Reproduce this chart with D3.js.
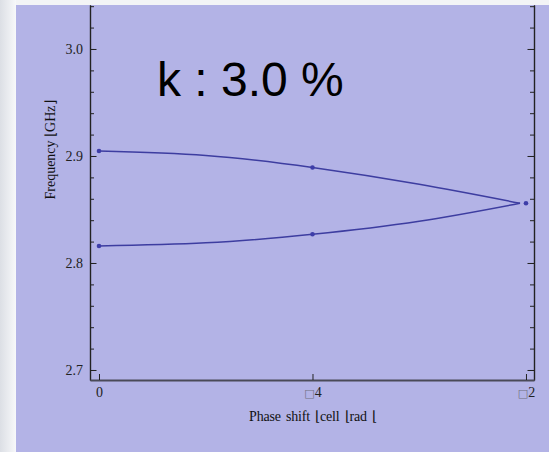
<!DOCTYPE html>
<html>
<head>
<meta charset="utf-8">
<script src="https://cdn.jsdelivr.net/npm/d3@7/dist/d3.min.js"></script>
<style>
  html, body { margin: 0; padding: 0; background: #f3f4f6; }
  svg { display: block; }
</style>
</head>
<body>
<svg id="chart" width="549" height="452"></svg>
<script>
// ---- data ----
const titleText = "k : 3.0 %";
const curvePhase = [0, 0.3927, 0.7854, 1.1781, 1.549];
const upperFreq = [2.9047, 2.9005, 2.8892, 2.8735, 2.8558];
const lowerFreq = [2.8159, 2.8188, 2.8268, 2.8390, 2.8558];
const markerPhase = [0, 0, 0.7854, 0.7854, 1.5708];
const markerFreq = [2.9047, 2.8159, 2.8892, 2.8268, 2.8558];
const yMajorTicks = [2.7, 2.8, 2.9, 3.0];
const yTickLabels = ["2.7", "2.8", "2.9", "3.0"];
const yMinorTicks = [2.70, 2.72, 2.74, 2.76, 2.78, 2.80, 2.82, 2.84, 2.86, 2.88, 2.90, 2.92, 2.94, 2.96, 2.98, 3.00, 3.02, 3.04];
const xTicks = [0, 0.7854, 1.5708];
const xTickLabels = ["0", "\u25A14", "\u25A12"];
const xTitle = "Phase  shift \u230Acell  \u230Arad \u230A";
const yTitle = "Frequency \u230AGHz\u230B";

const svg = d3.select("#chart");

// background
const defs = svg.append("defs");
const grad = defs.append("linearGradient").attr("id", "lg").attr("x1", 0).attr("x2", 1).attr("y1", 0).attr("y2", 0);
grad.append("stop").attr("offset", "0%").attr("stop-color", "#dcdfe5");
grad.append("stop").attr("offset", "100%").attr("stop-color", "#f7f8fa");
svg.append("rect").attr("x", 0).attr("y", 0).attr("width", 549).attr("height", 452).attr("fill", "#f3f4f6");
svg.append("rect").attr("x", 0).attr("y", 0).attr("width", 16).attr("height", 452).attr("fill", "url(#lg)");
svg.append("rect").attr("x", 16).attr("y", 5).attr("width", 533).attr("height", 447).attr("fill", "#b3b3e6");

// scales
const x = d3.scaleLinear().domain([-0.0331, 1.6003]).range([90, 534]);
const y = d3.scaleLinear().domain([2.69065, 3.0411]).range([380, 5]);

// y axis left
const gL = svg.append("g").attr("transform", "translate(90,0)");
gL.call(d3.axisLeft(y).tickValues(yMinorTicks).tickSizeInner(-4).tickSizeOuter(0).tickFormat(""));
gL.append("g").call(d3.axisLeft(y).tickValues(yMajorTicks).tickSizeInner(-6.5).tickSizeOuter(0).tickPadding(7)
  .tickFormat((d, i) => yTickLabels[i]));
gL.selectAll("path.domain").attr("stroke", "#222").attr("stroke-width", 1.2);
gL.selectAll(".tick line").attr("stroke", "#222");
gL.selectAll("text").attr("font-family", "'Liberation Serif', 'Times New Roman', serif").attr("font-size", 14).attr("fill", "#222");

// y axis right (no labels)
const gR = svg.append("g").attr("transform", "translate(534,0)");
gR.call(d3.axisRight(y).tickValues(yMinorTicks).tickSizeInner(-4).tickSizeOuter(0).tickFormat(""));
gR.append("g").call(d3.axisRight(y).tickValues(yMajorTicks).tickSizeInner(-6.5).tickSizeOuter(0).tickFormat(""));
gR.selectAll("path.domain").attr("stroke", "#222").attr("stroke-width", 1.2);
gR.selectAll(".tick line").attr("stroke", "#222");

// x axis
const gB = svg.append("g").attr("transform", "translate(0,380)");
gB.call(d3.axisBottom(x).tickValues(xTicks).tickSizeInner(-6).tickSizeOuter(0).tickPadding(7).tickFormat(""));
gB.select("path.domain").attr("stroke", "#4a4a58").attr("stroke-width", 1.8);
gB.selectAll(".tick line").attr("stroke", "#222");
gB.selectAll(".tick").each(function (d, i) {
  const lab = xTickLabels[i];
  const t = d3.select(this).append("text")
    .attr("y", 7).attr("dy", "0.71em").attr("text-anchor", "middle")
    .attr("font-family", "'Liberation Serif', 'Times New Roman', serif").attr("font-size", 14).attr("fill", "#222");
  if (lab.length > 1) {
    t.append("tspan").attr("fill", "#707080").attr("font-size", 11).attr("font-family", "'DejaVu Sans', sans-serif").text(lab[0]);
    t.append("tspan").text(lab.slice(1));
  } else {
    t.text(lab);
  }
});

// axis titles
svg.append("text").attr("x", 313).attr("y", 421).attr("text-anchor", "middle")
  .attr("font-family", "'Liberation Serif', 'Times New Roman', serif").attr("font-size", 14)
  .attr("letter-spacing", -0.2).attr("word-spacing", 2).attr("fill", "#111").text(xTitle);
svg.append("text").attr("transform", "translate(55,150) rotate(-90)").attr("text-anchor", "middle")
  .attr("font-family", "'Liberation Serif', 'Times New Roman', serif").attr("font-size", 14)
  .attr("fill", "#111").text(yTitle);

// curves
const line = d3.line().x(d => x(d[0])).y(d => y(d[1])).curve(d3.curveNatural);
[upperFreq, lowerFreq].forEach(series => {
  svg.append("path").datum(curvePhase.map((p, i) => [p, series[i]]))
    .attr("d", line).attr("fill", "none").attr("stroke", "#3d3da0").attr("stroke-width", 1.5);
});

// markers
svg.append("g").selectAll("circle").data(markerPhase.map((p, i) => [p, markerFreq[i]]))
  .join("circle").attr("cx", d => x(d[0])).attr("cy", d => y(d[1])).attr("r", 2.3).attr("fill", "#3d3da8");

// title
svg.append("text").attr("x", 157).attr("y", 96)
  .attr("font-family", "'Liberation Sans', Arial, sans-serif").attr("font-size", 48)
  .attr("fill", "#000").text(titleText);
</script>
</body>
</html>
